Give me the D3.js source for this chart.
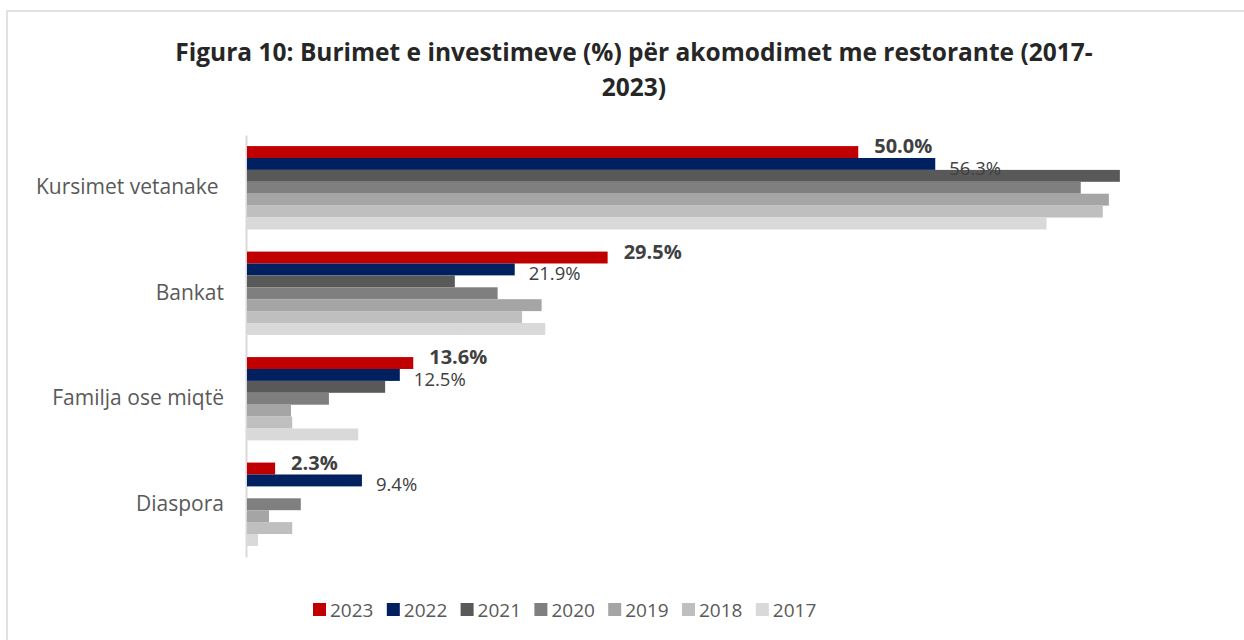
<!DOCTYPE html>
<meta charset="utf-8">
<script src="https://d3js.org/d3.v7.min.js"></script>
<style>
  body { margin: 0; background: #fff; }
  text { font-family: "Open Sans", "Noto Sans", sans-serif; }
</style>
<div id="my_dataviz"></div>
<script>

// data
var categories = ["Kursimet vetanake\u00a0", "Bankat", "Familja ose miqtë", "Diaspora"];
var years = ["2023", "2022", "2021", "2020", "2019", "2018", "2017"];
var colors = ["#C00000", "#002060", "#595959", "#7F7F7F", "#A5A5A5", "#BFBFBF", "#D9D9D9"];

var v2023 = [50.0, 29.5, 13.6, 2.3];
var v2022 = [56.3, 21.9, 12.5, 9.4];
var v2021 = [71.4, 17.0, 11.3, 0];
var v2020 = [68.2, 20.5, 6.7, 4.4];
var v2019 = [70.5, 24.1, 3.6, 1.8];
var v2018 = [70.0, 22.5, 3.7, 3.7];
var v2017 = [65.4, 24.4, 9.1, 0.9];

var series = [v2023, v2022, v2021, v2020, v2019, v2018, v2017];

var W = 1244, H = 640;

var svg = d3.select("#my_dataviz")
  .append("svg")
    .attr("width", W)
    .attr("height", H);

// chart border
svg.append("rect")
  .attr("x", 7).attr("y", 11)
  .attr("width", W + 20).attr("height", H + 20)
  .attr("fill", "none")
  .attr("stroke", "#d9d9d9")
  .attr("stroke-width", 1.5);

// title
var title = svg.append("text")
  .attr("text-anchor", "middle")
  .attr("font-weight", "bold")
  .attr("font-size", 24.5)
  .attr("fill", "#262626");
title.append("tspan").attr("x", 634).attr("y", 61)
  .text("Figura 10: Burimet e investimeve (%) për akomodimet me restorante (2017-");
title.append("tspan").attr("x", 634).attr("y", 96)
  .text("2023)");

var x = d3.scaleLinear()
  .domain([0, 80])
  .range([247, 1225]);

var y = d3.scaleBand()
  .domain(categories)
  .range([135, 557])
  .paddingInner(0.21)
  .paddingOuter(0.105);

var yInner = d3.scaleBand()
  .domain(years)
  .range([0, y.bandwidth()]);

// category axis
var yAxis = svg.append("g")
  .attr("transform", "translate(246,0)")
  .call(d3.axisLeft(y).tickSize(0).tickPadding(22));
yAxis.select(".domain")
  .attr("stroke", "#d9d9d9")
  .attr("stroke-width", 2);
yAxis.selectAll("text")
  .attr("font-size", 21)
  .attr("fill", "#595959")
  .style("font-family", "'Open Sans', 'Noto Sans', sans-serif");

// bars
var groups = svg.selectAll("g.cat")
  .data(categories)
  .enter()
  .append("g")
    .attr("class", "cat")
    .attr("transform", function(d) { return "translate(0," + y(d) + ")"; });

groups.selectAll("rect")
  .data(function(d, i) {
    return years.map(function(yr, j) { return {year: yr, value: series[j][i], color: colors[j]}; });
  })
  .enter()
  .append("rect")
    .attr("x", x(0))
    .attr("y", function(d) { return yInner(d.year); })
    .attr("height", yInner.bandwidth())
    .attr("width", function(d) { return x(d.value) - x(0); })
    .attr("fill", function(d) { return d.color; });

// value labels for 2023 (bold) and 2022
groups.append("text")
  .attr("x", function(d, i) { return x(v2023[i]) + 16; })
  .attr("y", function(d) { return yInner("2023") + yInner.bandwidth() / 2 + 1; })
  .attr("font-size", 20)
  .attr("font-weight", "bold")
  .attr("fill", "#404040")
  .text(function(d, i) { return v2023[i].toFixed(1) + "%"; });

groups.append("text")
  .attr("x", function(d, i) { return x(v2022[i]) + 14; })
  .attr("y", function(d) { return yInner("2022") + yInner.bandwidth() / 2 + 11; })
  .attr("font-size", 18.5)
  .attr("fill", "#404040")
  .text(function(d, i) { return v2022[i].toFixed(1) + "%"; });

// legend
var legend = svg.selectAll("g.legend")
  .data(years)
  .enter()
  .append("g")
    .attr("class", "legend")
    .attr("transform", function(d, i) { return "translate(" + (313 + i * 73.8) + ",603)"; });

legend.append("rect")
  .attr("width", 13)
  .attr("height", 13)
  .attr("fill", function(d, i) { return colors[i]; });

legend.append("text")
  .attr("x", 17)
  .attr("y", 14)
  .attr("font-size", 19)
  .attr("fill", "#595959")
  .text(function(d) { return d; });

</script>
